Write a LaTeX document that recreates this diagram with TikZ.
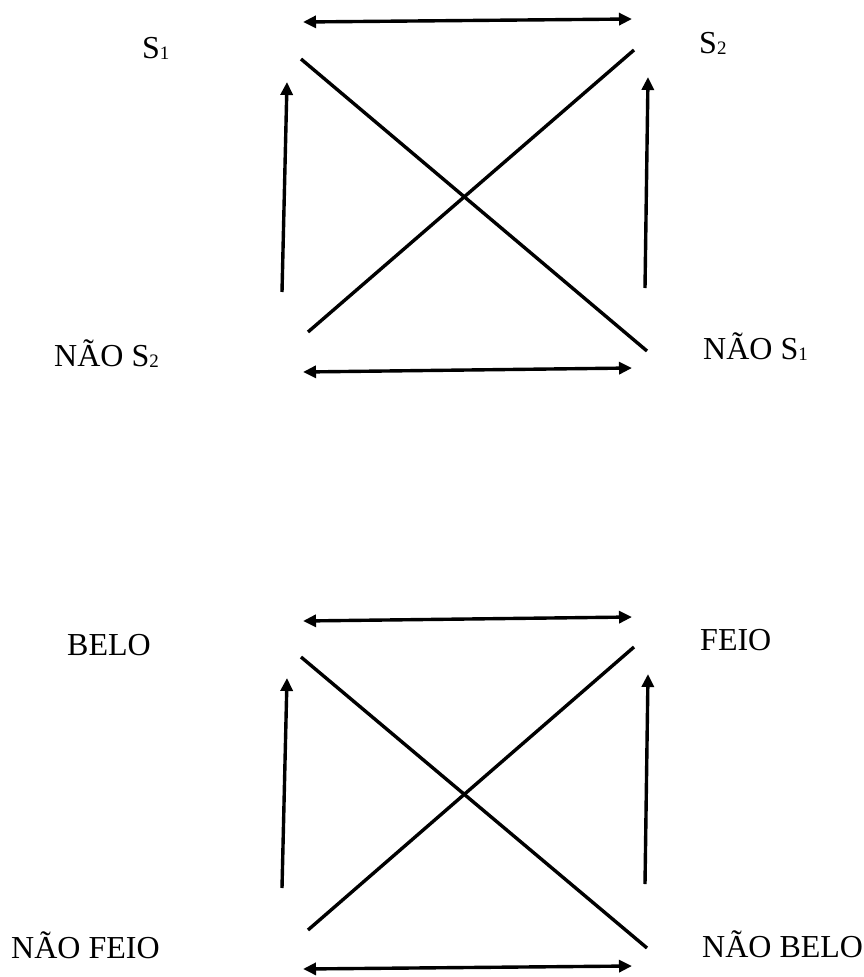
\documentclass[tikz,border=0pt]{standalone}
\usepackage{fontspec}
\setmainfont{Liberation Serif}
\usetikzlibrary{arrows.meta}
\newcommand{\sbx}[1]{{\fontsize{19}{19}\selectfont\raisebox{-1pt}{#1}}}
\tikzset{
  lbl/.style={anchor=base west, inner sep=0pt, font=\fontsize{32}{32}\selectfont},
  ln/.style={line width=3.4pt, line cap=butt},
  arr/.style={ln, -{Triangle[length=13pt,width=12pt]}},
  darr/.style={ln, {Triangle[length=13pt,width=12pt]}-{Triangle[length=13pt,width=12pt]}}
}
\begin{document}
\begin{tikzpicture}[x=1pt,y=-1pt]
\useasboundingbox (0,0) rectangle (864,977);
% ---------- top diagram ----------
\coordinate (tl) at (303,22);
\coordinate (tr) at (632,19);
\coordinate (bl) at (303,372);
\coordinate (br) at (632,368);
\coordinate (d1s) at (301,59);
\coordinate (d1e) at (647,351);
\coordinate (d2s) at (634,50);
\coordinate (d2e) at (308,332);
\coordinate (lvb) at (282,292);
\coordinate (lvt) at (287,82);
\coordinate (rvb) at (645,288);
\coordinate (rvt) at (648,77);
\draw[darr] (tl) -- (tr);
\draw[darr] (bl) -- (br);
\draw[ln] (d1s) -- (d1e);
\draw[ln] (d2s) -- (d2e);
\draw[arr] (lvb) -- (lvt);
\draw[arr] (rvb) -- (rvt);
\node[lbl] (s1) at (142,58) {S\sbx{1}};
\node[lbl] (s2) at (699,53) {S\sbx{2}};
\node[lbl] (ns2) at (54,366) {NÃO S\sbx{2}};
\node[lbl] (ns1) at (703,359) {NÃO S\sbx{1}};
% ---------- bottom diagram ----------
\coordinate (Btl) at (303,621);
\coordinate (Btr) at (632,617);
\coordinate (Bbl) at (303,969);
\coordinate (Bbr) at (632,966);
\coordinate (Bd1s) at (301,657);
\coordinate (Bd1e) at (647,948);
\coordinate (Bd2s) at (634,647);
\coordinate (Bd2e) at (308,930);
\coordinate (Blvb) at (282,888);
\coordinate (Blvt) at (287,678);
\coordinate (Brvb) at (645,884);
\coordinate (Brvt) at (648,674);
\draw[darr] (Btl) -- (Btr);
\draw[darr] (Bbl) -- (Bbr);
\draw[ln] (Bd1s) -- (Bd1e);
\draw[ln] (Bd2s) -- (Bd2e);
\draw[arr] (Blvb) -- (Blvt);
\draw[arr] (Brvb) -- (Brvt);
\node[lbl] (belo) at (67,655) {BELO};
\node[lbl] (feio) at (700,650) {FEIO};
\node[lbl] (nfeio) at (11,958) {NÃO FEIO};
\node[lbl] (nbelo) at (702,957) {NÃO BELO};
\end{tikzpicture}
\end{document}
